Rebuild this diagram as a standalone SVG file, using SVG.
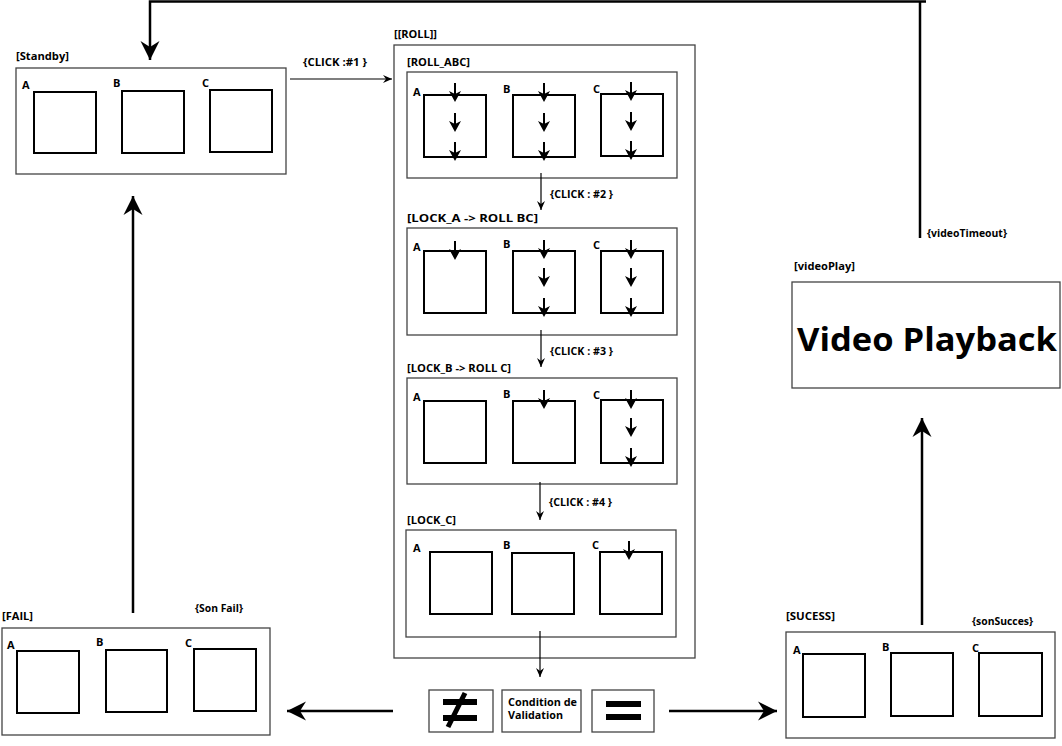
<svg xmlns="http://www.w3.org/2000/svg" xmlns:xlink="http://www.w3.org/1999/xlink" width="1062" height="746" viewBox="0 0 1062 746">
<style>
text{font-family:"Open Sans","Noto Sans","Liberation Sans",sans-serif;font-weight:bold;font-size:11px;fill:#000}
.box{fill:#fff;stroke:#444;stroke-width:1.3}
.sq{fill:#fff;stroke:#000;stroke-width:2}
.thin{fill:none;stroke:#000;stroke-width:1.2}
.thick{fill:none;stroke:#000;stroke-width:2.5}
.sym{fill:#000}
</style>
<defs>
<marker id="big" markerUnits="userSpaceOnUse" markerWidth="24" markerHeight="24" viewBox="-20 -12 24 24" refX="0" refY="0" orient="auto">
<path d="M0,0 L-19,-9.5 L-13,0 L-19,9.5 Z" fill="#000"/>
</marker>
<marker id="small" markerUnits="userSpaceOnUse" markerWidth="14" markerHeight="12" viewBox="-11 -6 14 12" refX="0" refY="0" orient="auto">
<path d="M0,0 L-9,-4 L-6,0 L-9,4 Z" fill="#000"/>
</marker>
<g id="dn">
<line x1="0" y1="0" x2="0" y2="12" stroke="#000" stroke-width="2"/>
<path d="M-6,8 L0,11 L6,8 L0,19 Z" fill="#000"/>
</g>
</defs>
<rect width="1062" height="746" fill="#fff"/>

<g id="standby">
<text x="16" y="60" textLength="53" lengthAdjust="spacingAndGlyphs">[Standby]</text>
<rect class="box" x="16" y="68" width="270" height="106"/>
<text x="22" y="89">A</text><rect class="sq" x="34" y="92" width="62" height="61"/>
<text x="113" y="87">B</text><rect class="sq" x="122" y="91" width="62" height="62"/>
<text x="202" y="87">C</text><rect class="sq" x="210" y="90" width="62" height="62"/>
</g>

<g id="roll">
<text x="394" y="38" textLength="43" lengthAdjust="spacingAndGlyphs">[[ROLL]]</text>
<rect class="box" x="394" y="45" width="301" height="613"/>
</g>

<g id="roll_abc">
<text x="407" y="66" textLength="63" lengthAdjust="spacingAndGlyphs">[ROLL_ABC]</text>
<rect class="box" x="407" y="72" width="270" height="106"/>
<text x="413" y="96">A</text><rect class="sq" x="424" y="95" width="62" height="62"/>
<text x="503" y="93">B</text><rect class="sq" x="513" y="95" width="62" height="62"/>
<text x="593" y="93">C</text><rect class="sq" x="601" y="94" width="62" height="62"/>
<use xlink:href="#dn" x="455" y="83"/><use xlink:href="#dn" x="455" y="113"/><use xlink:href="#dn" x="455" y="142"/>
<use xlink:href="#dn" x="544" y="83"/><use xlink:href="#dn" x="544" y="113"/><use xlink:href="#dn" x="544" y="142"/>
<use xlink:href="#dn" x="631" y="82"/><use xlink:href="#dn" x="631" y="112"/><use xlink:href="#dn" x="631" y="141"/>
</g>

<g id="lock_a">
<text x="407" y="222" textLength="131" lengthAdjust="spacingAndGlyphs">[LOCK_A -&gt; ROLL BC]</text>
<rect class="box" x="407" y="228" width="270" height="107"/>
<text x="413" y="251">A</text><rect class="sq" x="424" y="251" width="62" height="62"/>
<text x="503" y="248">B</text><rect class="sq" x="513" y="251" width="62" height="62"/>
<text x="593" y="249">C</text><rect class="sq" x="601" y="251" width="62" height="62"/>
<use xlink:href="#dn" x="455" y="241"/>
<use xlink:href="#dn" x="544" y="240"/><use xlink:href="#dn" x="544" y="268"/><use xlink:href="#dn" x="544" y="298"/>
<use xlink:href="#dn" x="631" y="240"/><use xlink:href="#dn" x="631" y="268"/><use xlink:href="#dn" x="631" y="298"/>
</g>

<g id="lock_b">
<text x="407" y="372" textLength="104" lengthAdjust="spacingAndGlyphs">[LOCK_B -&gt; ROLL C]</text>
<rect class="box" x="407" y="378" width="270" height="106"/>
<text x="413" y="401">A</text><rect class="sq" x="424" y="401" width="62" height="62"/>
<text x="503" y="398">B</text><rect class="sq" x="513" y="401" width="62" height="62"/>
<text x="593" y="399">C</text><rect class="sq" x="601" y="400" width="62" height="63"/>
<use xlink:href="#dn" x="544" y="390"/>
<use xlink:href="#dn" x="631" y="390"/><use xlink:href="#dn" x="631" y="418"/><use xlink:href="#dn" x="631" y="448"/>
</g>

<g id="lock_c">
<text x="407" y="524" textLength="49" lengthAdjust="spacingAndGlyphs">[LOCK_C]</text>
<rect class="box" x="406" y="530" width="270" height="107"/>
<text x="413" y="552">A</text><rect class="sq" x="430" y="552" width="62" height="62"/>
<text x="503" y="549">B</text><rect class="sq" x="512" y="553" width="62" height="61"/>
<text x="592" y="549">C</text><rect class="sq" x="600" y="552" width="62" height="62"/>
<use xlink:href="#dn" x="629" y="541"/>
</g>

<g id="condition">
<rect class="box" x="429" y="690" width="64" height="42"/>
<rect class="sym" x="443" y="699" width="34" height="6"/>
<rect class="sym" x="443" y="715" width="34" height="6"/>
<line x1="465" y1="693" x2="448" y2="727" stroke="#000" stroke-width="5"/>
<rect class="box" x="502" y="690" width="79" height="42"/>
<text x="508" y="706" textLength="69" lengthAdjust="spacingAndGlyphs">Condition de</text>
<text x="508" y="719" textLength="55" lengthAdjust="spacingAndGlyphs">Validation</text>
<rect class="box" x="592" y="690" width="62" height="42"/>
<rect class="sym" x="606" y="701" width="35" height="6"/>
<rect class="sym" x="606" y="714" width="35" height="6"/>
</g>

<g id="fail">
<text x="2" y="620" textLength="31" lengthAdjust="spacingAndGlyphs">[FAIL]</text>
<text x="195" y="612" textLength="48" lengthAdjust="spacingAndGlyphs">{Son Fail}</text>
<rect class="box" x="2" y="628" width="268" height="107"/>
<text x="7" y="649">A</text><rect class="sq" x="17" y="651" width="62" height="62"/>
<text x="96" y="646">B</text><rect class="sq" x="106" y="650" width="61" height="62"/>
<text x="185" y="647">C</text><rect class="sq" x="194" y="649" width="62" height="62"/>
</g>

<g id="sucess">
<text x="786" y="620" textLength="49" lengthAdjust="spacingAndGlyphs">[SUCESS]</text>
<text x="972" y="625" textLength="61" lengthAdjust="spacingAndGlyphs">{sonSucces}</text>
<rect class="box" x="786" y="632" width="269" height="106"/>
<text x="793" y="654">A</text><rect class="sq" x="803" y="654" width="62" height="63"/>
<text x="882" y="651">B</text><rect class="sq" x="891" y="653" width="62" height="63"/>
<text x="972" y="652">C</text><rect class="sq" x="979" y="653" width="63" height="63"/>
</g>

<g id="videoplay">
<text x="794" y="270" textLength="61" lengthAdjust="spacingAndGlyphs">[videoPlay]</text>
<rect class="box" x="792" y="282" width="268" height="106"/>
<text x="797" y="351" style="font-size:33px" textLength="260" lengthAdjust="spacingAndGlyphs">Video Playback</text>
</g>

<g id="connectors">
<path class="thick" d="M920,238 V1.5"/>
<path class="thick" d="M926,1.5 H150 V60" marker-end="url(#big)"/>
<text x="927" y="237" textLength="80" lengthAdjust="spacingAndGlyphs">{videoTimeout}</text>
<path class="thin" d="M290,79 H392" marker-end="url(#small)"/>
<text x="303" y="66" textLength="64" lengthAdjust="spacingAndGlyphs">{CLICK :#1 }</text>
<path class="thin" d="M541,173 V210" marker-end="url(#small)"/>
<text x="550" y="198" textLength="63" lengthAdjust="spacingAndGlyphs">{CLICK : #2 }</text>
<path class="thin" d="M541,330 V367" marker-end="url(#small)"/>
<text x="550" y="355" textLength="63" lengthAdjust="spacingAndGlyphs">{CLICK : #3 }</text>
<path class="thin" d="M540,482 V520" marker-end="url(#small)"/>
<text x="549" y="506" textLength="63" lengthAdjust="spacingAndGlyphs">{CLICK : #4 }</text>
<path class="thin" d="M540,631 V677" marker-end="url(#small)"/>
<path class="thick" d="M393,711 H287" marker-end="url(#big)"/>
<path class="thick" d="M669,711 H777" marker-end="url(#big)"/>
<path class="thick" d="M133,613 V196" marker-end="url(#big)"/>
<path class="thick" d="M922,625 V418" marker-end="url(#big)"/>
</g>
</svg>
